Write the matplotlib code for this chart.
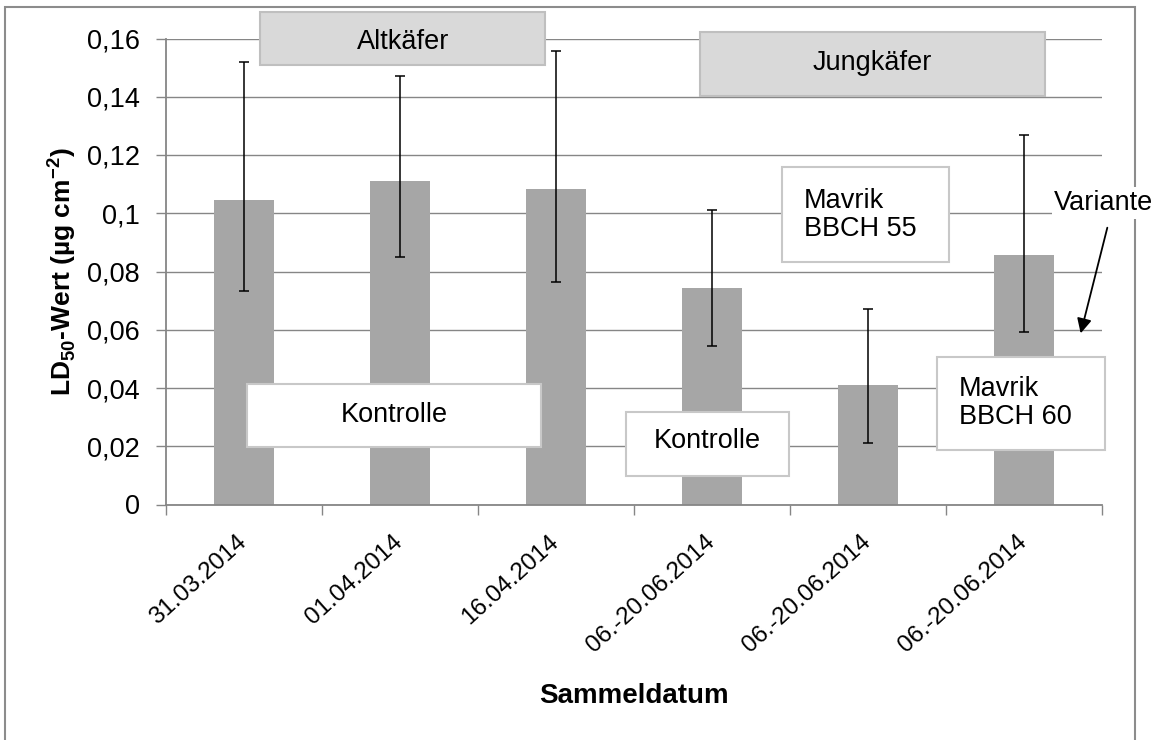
import matplotlib
matplotlib.use("Agg")
import matplotlib.pyplot as plt
from matplotlib.patches import Rectangle, FancyArrowPatch
import numpy as np

plt.rcParams['font.family'] = ['Liberation Sans', 'DejaVu Sans']
plt.rcParams['mathtext.fontset'] = 'custom'
plt.rcParams['mathtext.rm'] = 'Liberation Sans'
plt.rcParams['mathtext.bf'] = 'Liberation Sans:bold'

categories = ["31.03.2014", "01.04.2014", "16.04.2014",
              "06.-20.06.2014", "06.-20.06.2014", "06.-20.06.2014"]
values = [0.1046, 0.1112, 0.1082, 0.0742, 0.0410, 0.0857]
err_upper = [0.1518, 0.1471, 0.1556, 0.1012, 0.0672, 0.1269]
err_lower = [0.0733, 0.0850, 0.0763, 0.0544, 0.0212, 0.0591]
yticks = [0, 0.02, 0.04, 0.06, 0.08, 0.1, 0.12, 0.14, 0.16]
ytick_labels = ["0", "0,02", "0,04", "0,06", "0,08", "0,1", "0,12", "0,14", "0,16"]

W, H = 1165, 740
fig = plt.figure(figsize=(W / 100, H / 100), dpi=100)
ax = fig.add_axes([166 / W, 1 - 504.5 / H, (1102 - 166) / W, (504.5 - 38.5) / H])

x = np.arange(len(values))
vals = np.array(values)
yerr = np.array([vals - np.array(err_lower), np.array(err_upper) - vals])

ax.bar(x, vals, width=0.39, color='#a6a6a6', zorder=2)
ax.errorbar(x, vals, yerr=yerr, fmt='none', ecolor='black', elinewidth=1.1,
            capsize=3.8, capthick=1.1, zorder=3)

ax.set_xlim(-0.5, len(values) - 0.5)
ax.set_ylim(0, 0.16)
ax.set_yticks(yticks)
ax.set_yticklabels(ytick_labels, fontsize=19.5)
ax.yaxis.grid(True, color='#868686', linewidth=1.0, zorder=0)
ax.set_axisbelow(True)

ax.set_xticks(x)
ax.set_xticklabels(categories, fontsize=17.5, rotation=42, ha='right',
                   rotation_mode='anchor', va='center')
ax.tick_params(axis='x', length=0, pad=25)
# category boundary ticks
ax.set_xticks(np.arange(-0.5, len(values), 1.0), minor=True)
ax.tick_params(axis='x', which='minor', length=7, width=1.0, color='#868686', direction='out')
ax.tick_params(axis='y', length=7, width=1.0, color='#868686', direction='out', pad=12)

for s in ['top', 'right']:
    ax.spines[s].set_visible(False)
for s in ['left', 'bottom']:
    ax.spines[s].set_color('#868686')
    ax.spines[s].set_linewidth(1.3)

ax.set_ylabel(r'LD$_\mathbf{50}$-Wert (µg cm$^\mathbf{-2}$)', fontsize=19,
              fontweight='bold')
ax.yaxis.set_label_coords((62 - 166) / (1102 - 166), 0.5)
ax.yaxis.label.set_va('center')
fig.text(634 / W, 1 - 696 / H, 'Sammeldatum', fontsize=20, fontweight='bold',
         ha='center', va='center')

# figure border
fig.patches.append(Rectangle((5 / W, -0.01), (1135 - 5) / W, (H - 7) / H + 0.01,
                             transform=fig.transFigure, fill=False,
                             edgecolor='#8c8c8c', linewidth=1.5, zorder=0))


def box(x0, y0, x1, y1, face, edge):
    fig.patches.append(Rectangle((x0 / W, 1 - y1 / H), (x1 - x0) / W, (y1 - y0) / H,
                                 transform=fig.transFigure, facecolor=face,
                                 edgecolor=edge, linewidth=1.5, zorder=5))


def label(px, py, s, ha='center', ls=1.2):
    fig.text(px / W, 1 - py / H, s, fontsize=19.5, ha=ha, va='center',
             zorder=6, linespacing=ls)


box(260, 12, 545, 65, '#d9d9d9', '#bfbfbf')
label(403, 42, 'Altkäfer')
box(700, 32, 1045, 96, '#d9d9d9', '#bfbfbf')
label(872, 63, 'Jungkäfer')
box(782, 167, 949, 262, 'white', '#c8c8c8')
label(804, 215, 'Mavrik\nBBCH 55', ha='left', ls=1.05)
box(247, 384, 541, 447, 'white', '#c8c8c8')
label(394, 415, 'Kontrolle')
box(626, 412, 789, 476, 'white', '#c8c8c8')
label(707, 441, 'Kontrolle')
box(937, 357, 1105, 450, 'white', '#c8c8c8')
label(959, 403, 'Mavrik\nBBCH 60', ha='left', ls=1.05)

fig.text(1104 / W, 1 - 203 / H, 'Variante', fontsize=19.5, ha='center', va='center',
         zorder=6, bbox=dict(facecolor='white', edgecolor='none', pad=2))
fig.patches.append(FancyArrowPatch((1108 / W, 1 - 225 / H), (1080 / W, 1 - 336 / H),
                                   transform=fig.transFigure, arrowstyle='-|>',
                                   mutation_scale=22, color='black', linewidth=1.3,
                                   zorder=6))

fig.savefig('out.png', dpi=100, facecolor='white')
